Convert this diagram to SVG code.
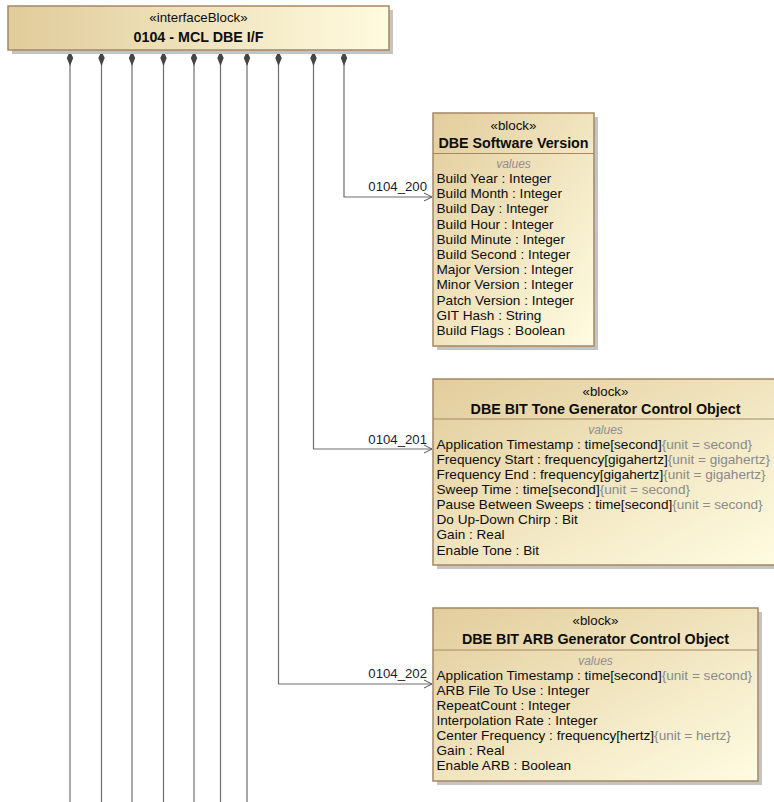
<svg xmlns="http://www.w3.org/2000/svg" width="774" height="802" viewBox="0 0 774 802">
  <defs>
    <linearGradient id="fillBlock" x1="0" y1="0" x2="1" y2="1">
      <stop offset="0" stop-color="#e2cd9c"/>
      <stop offset="1" stop-color="#fffce2"/>
    </linearGradient>
    <linearGradient id="fillWide" x1="0" y1="0" x2="1" y2="0">
      <stop offset="0" stop-color="#e0cb9a"/>
      <stop offset="1" stop-color="#fffbdf"/>
    </linearGradient>
    <marker id="openArrow" markerWidth="10" markerHeight="10" refX="9" refY="5" orient="auto" markerUnits="userSpaceOnUse">
      <path d="M1,1 L9,5 L1,9" fill="none" stroke="#555" stroke-width="1"/>
    </marker>
    <polygon id="diamond" points="0,51 3.2,58 0,66 -3.2,58"/>
  </defs>
  <style>
    text { font-family: "Liberation Sans", Arial, sans-serif; fill: #0d0d0d; }
    .shadow { fill: #c4c4c4; }
    .box { stroke: #a58763; stroke-width: 1.5; }
    .stereo { font-size: 13.3px; text-anchor: middle; }
    .title { font-size: 14.3px; font-weight: bold; text-anchor: middle; }
    .divider { stroke: #a58763; stroke-width: 1.2; }
    .compartment { font-size: 12px; font-style: italic; fill: #8f8f8f; text-anchor: middle; }
    .attr { font-size: 13.6px; }
    .unit { fill: #8a8a8a; }
    .wire { fill: none; stroke: #6e6e6e; stroke-width: 1.2; }
    .end { fill: #454545; }
    .label { font-size: 13.2px; text-anchor: end; fill: #1c1c30; }
  </style>

  <!-- connectors -->
  <g id="connectors">
    <path class="wire" d="M70,58 V802"/>
    <path class="wire" d="M101.5,58 V802"/>
    <path class="wire" d="M132,58 V802"/>
    <path class="wire" d="M163.5,58 V802"/>
    <path class="wire" d="M194,58 V802"/>
    <path class="wire" d="M220.5,58 V802"/>
    <path class="wire" d="M247,58 V802"/>
    <path class="wire" d="M278.5,58 V684 H432" marker-end="url(#openArrow)"/>
    <path class="wire" d="M313.5,58 V449 H432" marker-end="url(#openArrow)"/>
    <path class="wire" d="M344,58 V197 H432" marker-end="url(#openArrow)"/>
    <use href="#diamond" class="end" x="70"/>
    <use href="#diamond" class="end" x="101.5"/>
    <use href="#diamond" class="end" x="132"/>
    <use href="#diamond" class="end" x="163.5"/>
    <use href="#diamond" class="end" x="194"/>
    <use href="#diamond" class="end" x="220.5"/>
    <use href="#diamond" class="end" x="247"/>
    <use href="#diamond" class="end" x="278.5"/>
    <use href="#diamond" class="end" x="313.5"/>
    <use href="#diamond" class="end" x="344"/>
    <text class="label" x="427" y="190.5">0104_200</text>
    <text class="label" x="427" y="444">0104_201</text>
    <text class="label" x="427" y="678">0104_202</text>
  </g>

  <!-- interface block -->
  <g id="mcl-dbe-if">
    <rect class="shadow" x="12" y="10" width="381" height="44"/>
    <rect class="box" x="8" y="6" width="381" height="44" fill="url(#fillWide)"/>
    <text class="stereo" x="198.5" y="21.5">«interfaceBlock»</text>
    <text class="title" x="198.5" y="42">0104 - MCL DBE I/F</text>
  </g>

  <!-- DBE Software Version -->
  <g id="dbe-software-version">
    <rect class="shadow" x="437" y="117" width="161" height="233"/>
    <rect class="box" x="433" y="113" width="161" height="233" fill="url(#fillBlock)"/>
    <text class="stereo" x="513.5" y="129.5">«block»</text>
    <text class="title" x="513.5" y="148">DBE Software Version</text>
    <line class="divider" x1="433" y1="153.5" x2="594" y2="153.5"/>
    <text class="compartment" x="513.5" y="167.5">values</text>
    <text class="attr" x="436.5" y="183">Build Year : Integer</text>
    <text class="attr" x="436.5" y="198.2">Build Month : Integer</text>
    <text class="attr" x="436.5" y="213.4">Build Day : Integer</text>
    <text class="attr" x="436.5" y="228.6">Build Hour : Integer</text>
    <text class="attr" x="436.5" y="243.8">Build Minute : Integer</text>
    <text class="attr" x="436.5" y="259">Build Second : Integer</text>
    <text class="attr" x="436.5" y="274.2">Major Version : Integer</text>
    <text class="attr" x="436.5" y="289.4">Minor Version : Integer</text>
    <text class="attr" x="436.5" y="304.6">Patch Version : Integer</text>
    <text class="attr" x="436.5" y="319.8">GIT Hash : String</text>
    <text class="attr" x="436.5" y="335">Build Flags : Boolean</text>
  </g>

  <!-- DBE BIT Tone Generator Control Object -->
  <g id="dbe-bit-tone-generator">
    <rect class="shadow" x="437" y="383" width="345" height="186"/>
    <rect class="box" x="433" y="379" width="345" height="186" fill="url(#fillBlock)"/>
    <text class="stereo" x="605.5" y="396">«block»</text>
    <text class="title" x="605.5" y="413.5">DBE BIT Tone Generator Control Object</text>
    <line class="divider" x1="433" y1="419" x2="778" y2="419"/>
    <text class="compartment" x="605.5" y="433.5">values</text>
    <text class="attr" x="436.5" y="448.5">Application Timestamp : time[second]<tspan class="unit">{unit = second}</tspan></text>
    <text class="attr" x="436.5" y="463.6">Frequency Start : frequency[gigahertz]<tspan class="unit">{unit = gigahertz}</tspan></text>
    <text class="attr" x="436.5" y="478.8">Frequency End : frequency[gigahertz]<tspan class="unit">{unit = gigahertz}</tspan></text>
    <text class="attr" x="436.5" y="493.9">Sweep Time : time[second]<tspan class="unit">{unit = second}</tspan></text>
    <text class="attr" x="436.5" y="509.1">Pause Between Sweeps : time[second]<tspan class="unit">{unit = second}</tspan></text>
    <text class="attr" x="436.5" y="524.2">Do Up-Down Chirp : Bit</text>
    <text class="attr" x="436.5" y="539.4">Gain : Real</text>
    <text class="attr" x="436.5" y="554.5">Enable Tone : Bit</text>
  </g>

  <!-- DBE BIT ARB Generator Control Object -->
  <g id="dbe-bit-arb-generator">
    <rect class="shadow" x="437" y="612" width="325" height="173"/>
    <rect class="box" x="433" y="608" width="325" height="173" fill="url(#fillBlock)"/>
    <text class="stereo" x="595.5" y="625">«block»</text>
    <text class="title" x="595.5" y="644">DBE BIT ARB Generator Control Object</text>
    <line class="divider" x1="433" y1="650" x2="758" y2="650"/>
    <text class="compartment" x="595.5" y="664.5">values</text>
    <text class="attr" x="436.5" y="679.5">Application Timestamp : time[second]<tspan class="unit">{unit = second}</tspan></text>
    <text class="attr" x="436.5" y="694.5">ARB File To Use : Integer</text>
    <text class="attr" x="436.5" y="709.5">RepeatCount : Integer</text>
    <text class="attr" x="436.5" y="724.5">Interpolation Rate : Integer</text>
    <text class="attr" x="436.5" y="739.5">Center Frequency : frequency[hertz]<tspan class="unit">{unit = hertz}</tspan></text>
    <text class="attr" x="436.5" y="754.5">Gain : Real</text>
    <text class="attr" x="436.5" y="769.5">Enable ARB : Boolean</text>
  </g>
</svg>
